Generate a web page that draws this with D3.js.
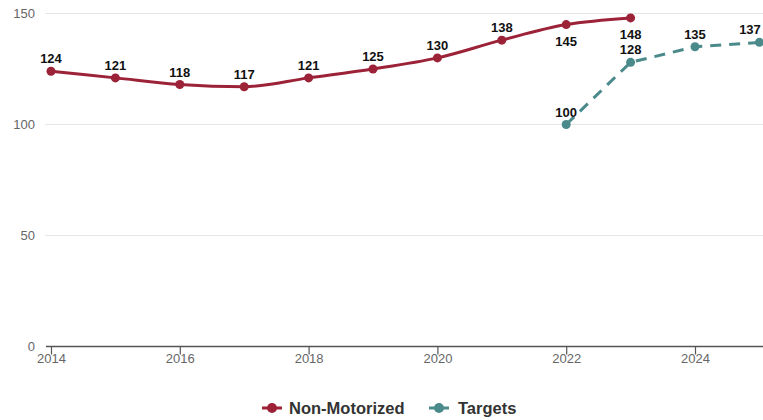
<!DOCTYPE html>
<html>
<head>
<meta charset="utf-8">
<script src="https://cdn.jsdelivr.net/npm/d3@7"></script>
<style>
  html, body { margin: 0; padding: 0; background: #fff; }
  svg { display: block; font-family: "Liberation Sans", Arial, sans-serif; }
</style>
</head>
<body>
<svg id="chart" width="763" height="420"></svg>
<script>
// Non-motorized fatalities and serious injuries with targets
const years = [2014, 2015, 2016, 2017, 2018, 2019, 2020, 2021, 2022, 2023];
const nonMotorized = [124, 121, 118, 117, 121, 125, 130, 138, 145, 148];
const targetYears = [2022, 2023, 2024, 2025];
const targets = [100, 128, 135, 137];
const yTicks = [0, 50, 100, 150];
const xTicks = [2014, 2016, 2018, 2020, 2022, 2024];
// label placement: 1 = above point, -1 = below point
const nmLabelSide = [1, 1, 1, 1, 1, 1, 1, 1, -1, -1];
const tgLabelSide = [1, 1, 1, 1];

const RED = "#9c2238";
const TEAL = "#4b8a8b";
const W = 763;

const svg = d3.select("#chart");

const x = d3.scaleLinear().domain([2014, 2025]).range([51, 759.4]);
const y = d3.scaleLinear().domain([0, 150]).range([346.5, 13.5]);

// horizontal gridlines
svg.append("g")
  .selectAll("line")
  .data(yTicks.filter(d => d > 0))
  .join("line")
  .attr("x1", 45).attr("x2", W)
  .attr("y1", d => y(d)).attr("y2", d => y(d))
  .attr("stroke", "#e6e6e6").attr("stroke-width", 1);

// y tick labels
svg.append("g")
  .selectAll("text")
  .data(yTicks)
  .join("text")
  .attr("x", 35)
  .attr("y", d => y(d) + 4.5)
  .attr("text-anchor", "end")
  .attr("font-size", 13)
  .attr("fill", "#666")
  .text(d => d);

// x axis
const xAxis = d3.axisBottom(x)
  .tickValues(xTicks)
  .tickFormat(d3.format("d"))
  .tickSize(8)
  .tickSizeOuter(0);
const gx = svg.append("g")
  .attr("transform", `translate(0,${y(0)})`)
  .call(xAxis);
gx.select(".domain").remove();
gx.insert("line", ":first-child")
  .attr("x1", 46).attr("x2", W)
  .attr("stroke", "#555").attr("stroke-width", 1.5);
gx.selectAll(".tick line").attr("stroke", "#555").attr("stroke-width", 1.2);
gx.selectAll(".tick text")
  .attr("font-size", 13)
  .attr("fill", "#666")
  .attr("font-family", "Liberation Sans, Arial, sans-serif")
  .attr("dy", "0.95em")
  .attr("y", 4);

const smooth = d3.line()
  .x(d => x(d[0]))
  .y(d => y(d[1]))
  .curve(d3.curveMonotoneX);
const straight = d3.line()
  .x(d => x(d[0]))
  .y(d => y(d[1]));

const nmData = years.map((yr, i) => [yr, nonMotorized[i], nmLabelSide[i]]);
const tgData = targetYears.map((yr, i) => [yr, targets[i], tgLabelSide[i]]);

// targets series (dashed)
svg.append("path")
  .datum(tgData)
  .attr("fill", "none")
  .attr("stroke", TEAL)
  .attr("stroke-width", 3)
  .attr("stroke-dasharray", "11,8")
  .attr("d", straight);
svg.append("g")
  .selectAll("circle")
  .data(tgData)
  .join("circle")
  .attr("cx", d => x(d[0])).attr("cy", d => y(d[1]))
  .attr("r", 4.5).attr("fill", TEAL);

// non-motorized series
svg.append("path")
  .datum(nmData)
  .attr("fill", "none")
  .attr("stroke", RED)
  .attr("stroke-width", 3)
  .attr("d", smooth);
svg.append("g")
  .selectAll("circle")
  .data(nmData)
  .join("circle")
  .attr("cx", d => x(d[0])).attr("cy", d => y(d[1]))
  .attr("r", 4.5).attr("fill", RED);

// value labels; a label near the right edge is pulled inside the canvas
function labels(data) {
  svg.append("g")
    .selectAll("text")
    .data(data)
    .join("text")
    .attr("x", d => Math.min(x(d[0]), W - 13))
    .attr("y", d => d[2] > 0 ? y(d[1]) - 8 : y(d[1]) + 21)
    .attr("text-anchor", "middle")
    .attr("font-size", 13)
    .attr("font-weight", "bold")
    .attr("fill", "#111")
    .text(d => d[1]);
}
labels(nmData);
labels(tgData);

// legend
const legend = svg.append("g").attr("transform", "translate(0,408)");
const items = [
  { name: "Non-Motorized", color: RED, x: 262 },
  { name: "Targets", color: TEAL, x: 429 }
];
items.forEach(it => {
  const g = legend.append("g").attr("transform", `translate(${it.x},0)`);
  g.append("line").attr("x1", 0).attr("x2", 20).attr("y1", 0).attr("y2", 0)
    .attr("stroke", it.color).attr("stroke-width", 3);
  g.append("circle").attr("cx", 10).attr("cy", 0).attr("r", 5).attr("fill", it.color);
  g.append("text").attr("x", it.name === "Targets" ? 29 : 27).attr("y", 5.5)
    .attr("font-size", 16.5).attr("font-weight", "bold").attr("fill", "#333")
    .text(it.name);
});
</script>
</body>
</html>
